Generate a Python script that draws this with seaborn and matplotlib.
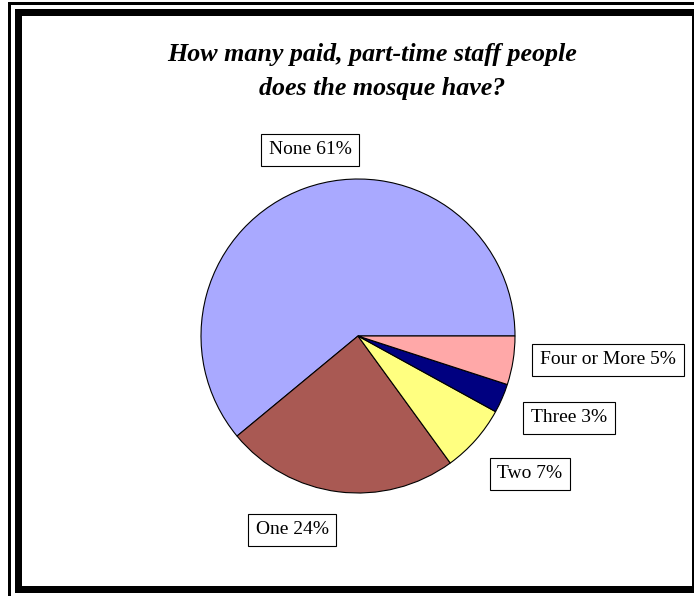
import matplotlib
matplotlib.use("Agg")
import matplotlib.pyplot as plt
from matplotlib.patches import Rectangle
import seaborn as sns

# Survey responses: paid, part-time staff
categories = ["None", "One", "Two", "Three", "Four or More"]
percentages = [61, 24, 7, 3, 5]
colors = ["#A9A9FF", "#A95953", "#FFFF80", "#000080", "#FFA8A8"]
title_lines = ["How many paid, part-time staff people", "does the mosque have?"]

# Label box centres in pixels (x from left, y from top)
label_centers = [(310, 150), (292, 530), (530, 474), (569, 418), (608, 360)]

W, H = 694, 596
sns.set_theme(style="white")
plt.rcParams["font.family"] = ["Liberation Serif", "DejaVu Serif"]
plt.rcParams["text.color"] = "black"

fig = plt.figure(figsize=(W / 100, H / 100), dpi=100)
fig.patch.set_facecolor("white")


def fx(x):
    return x / W


def fy(y):
    return 1 - y / H


def band(x0, y0, x1, y1):
    fig.add_artist(Rectangle((fx(x0), fy(y1)), fx(x1) - fx(x0), fy(y0) - fy(y1),
                             transform=fig.transFigure, facecolor="black",
                             edgecolor="none"))


# Double frame: thin outer line, thick inner line
band(8, 2, 694, 4.5)
band(8, 2, 11, 596)
band(15, 9, 694, 16)
band(15, 9, 22, 593)
band(15, 586, 694, 593)
band(692, 9, 694, 593)

# Pie axes: centre (358, 336), radius 157 px
cx, cy, r = 358, 336, 157
half = 160
ax = fig.add_axes([fx(cx - half), fy(cy + half), 2 * half / W, 2 * half / H])

ax.pie(percentages, colors=colors, startangle=0, counterclock=True,
       radius=1, wedgeprops=dict(edgecolor="black", linewidth=0.8))
ax.set_xlim(-half / r, half / r)
ax.set_ylim(-half / r, half / r)
ax.set_aspect("equal")
ax.axis("off")

for cat, val, (lx, ly) in zip(categories, percentages, label_centers):
    fig.text(fx(lx), fy(ly), f"{cat} {val}%", ha="center", va="center",
             fontsize=14, color="black",
             bbox=dict(boxstyle="square,pad=0.4", facecolor="white",
                       edgecolor="black", linewidth=0.8))

fig.text(fx(372), fy(55), title_lines[0], ha="center", va="center",
         fontsize=18.7, fontweight="bold", fontstyle="italic", color="black")
fig.text(fx(382), fy(89), title_lines[1], ha="center", va="center",
         fontsize=18.7, fontweight="bold", fontstyle="italic", color="black")

fig.savefig("out.png", dpi=100, facecolor="white")
